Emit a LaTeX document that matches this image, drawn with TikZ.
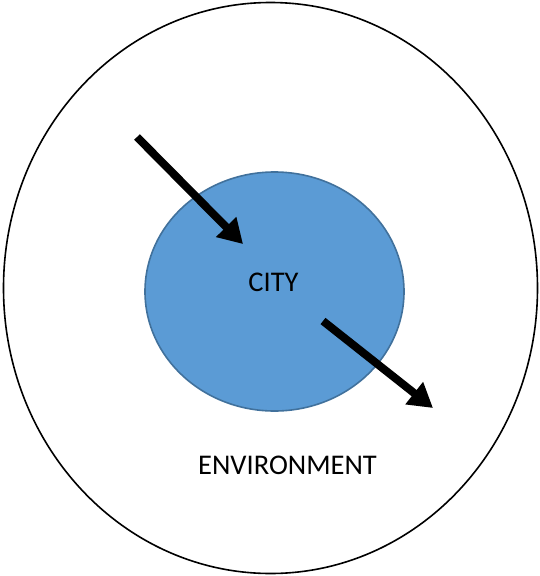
\documentclass[tikz,border=0pt]{standalone}
\usepackage{fontspec}
\setmainfont{Carlito}
\usetikzlibrary{arrows.meta,shapes.geometric}
\definecolor{cityfill}{HTML}{5B9BD5}
\definecolor{cityborder}{HTML}{41719C}
\tikzset{
  flow/.style={line width=8pt, -{Triangle[length=24pt,width=27pt]}, black},
  lbl/.style={font=\fontsize{28.5}{34}\selectfont, inner sep=0pt},
  region/.style={ellipse, inner sep=0pt, outer sep=0pt, line width=1.6pt}
}
\begin{document}
\begin{tikzpicture}[x=1pt,y=-1pt]
\useasboundingbox (0,0) rectangle (540,576);
\node[region, draw=black, minimum width=534pt, minimum height=571pt] (envshape) at (270.5,288) {};
\node[region, draw=cityborder, fill=cityfill, minimum width=259pt, minimum height=239pt] (cityshape) at (274.5,291.5) {};
\node[lbl] (city) at (273.5,282) {CITY};
\node[lbl] (env) at (287.5,465) {ENVIRONMENT};
\coordinate (a1s) at (137,137);
\coordinate (a1e) at (243,244);
\coordinate (a2s) at (323,321);
\coordinate (a2e) at (433,408);
\draw[flow] (a1s) -- (a1e);
\draw[flow] (a2s) -- (a2e);
\end{tikzpicture}
\end{document}
